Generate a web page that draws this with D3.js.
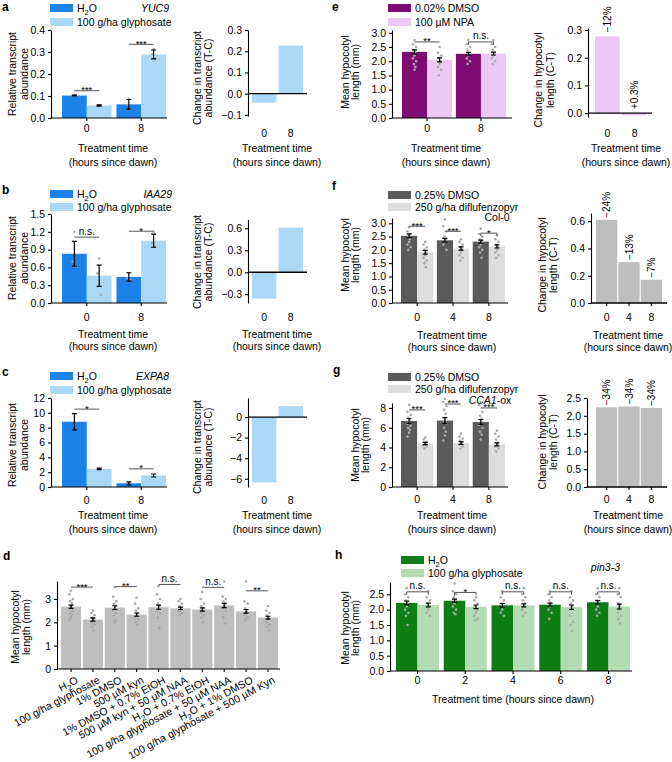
<!DOCTYPE html>
<html><head><meta charset="utf-8">
<script src="https://cdn.jsdelivr.net/npm/d3@7"></script>
<style>body{margin:0;background:#fff}</style>
</head><body>
<script>
// ---------- data ----------
var times2 = ["0", "8"], times3 = ["0", "4", "8"], times5 = ["0", "2", "4", "6", "8"];

// a  YUC9
var aH2O = [0.102, 0.062], aH2OErr = [0.002, 0.022], aH2OPts = [[0.104, 0.101, 0.102], [0.086, 0.060, 0.040]];
var aGly = [0.057, 0.289], aGlyErr = [0.003, 0.020], aGlyPts = [[0.059, 0.056, 0.057], [0.312, 0.290, 0.268]];
var aSig = ["***", "***"], aSigAt = [0.124, 0.335];
var aDiff = [-0.042, 0.227];

// b  IAA29
var bH2O = [0.83, 0.44], bH2OErr = [0.21, 0.07], bH2OPts = [[1.2, 0.7, 0.62], [0.5, 0.42, 0.39]];
var bGly = [0.46, 1.05], bGlyErr = [0.18, 0.11], bGlyPts = [[0.75, 0.5, 0.14], [1.2, 1.0, 0.95]];
var bSig = ["n.s.", "*"], bSigAt = [1.11, 1.21];
var bDiff = [-0.36, 0.61];

// c  EXPA8
var cH2O = [8.8, 0.5], cH2OErr = [1.1, 0.2];
var cGly = [2.45, 1.55], cGlyErr = [0.1, 0.2];
var cSig = ["*", "*"], cSigAt = [10.5, 2.45];
var cDiff = [-6.35, 1.05];

// d  treatments
var dLabels = ["H₂O", "100 g/ha glyphosate", "1% DMSO", "500 µM kyn", "1% DMSO + 0.7% EtOH",
  "500 µM kyn + 50 µM NAA", "H₂O + 0.7% EtOH", "100 g/ha glyphosate + 50 µM NAA", "H₂O + 1% DMSO",
  "100 g/ha glyphosate + 500 µM Kyn"];
var dMean = [2.67, 2.12, 2.63, 2.33, 2.65, 2.60, 2.55, 2.72, 2.47, 2.20];
var dErr = [0.07, 0.07, 0.08, 0.07, 0.09, 0.05, 0.07, 0.09, 0.08, 0.06];
var dPts = [
  [3.35, 3.2, 3.0, 2.9, 2.8, 2.7, 2.6, 2.5, 2.4, 2.3, 2.2, 2.1],
  [2.5, 2.4, 2.3, 2.2, 2.15, 2.1, 2.0, 1.9, 1.8, 1.65],
  [3.5, 3.1, 2.9, 2.8, 2.7, 2.6, 2.5, 2.4, 2.3, 2.1, 2.0],
  [3.05, 2.8, 2.6, 2.5, 2.4, 2.3, 2.2, 2.1, 2.0, 1.9],
  [3.55, 3.2, 3.0, 2.8, 2.7, 2.6, 2.5, 2.4, 2.2, 1.75],
  [3.0, 2.9, 2.8, 2.7, 2.6, 2.5, 2.45, 2.4, 2.3],
  [3.3, 3.0, 2.8, 2.7, 2.6, 2.5, 2.4, 2.3, 2.2, 2.0],
  [3.75, 3.1, 3.0, 2.9, 2.8, 2.7, 2.6, 2.5, 2.2, 1.95],
  [3.75, 2.9, 2.8, 2.6, 2.5, 2.4, 2.3, 2.2, 2.1],
  [2.7, 2.5, 2.4, 2.3, 2.2, 2.1, 2.0, 1.9, 1.8, 1.65]];
var dSig = ["***", "**", "n.s.", "n.s.", "**"], dSigAt = [3.51, 3.53, 3.62, 3.5, 3.35];

// e  NPA
var eDMSO = [2.33, 2.26], eDMSOErr = [0.07, 0.05];
var eNPA = [2.05, 2.27], eNPAErr = [0.07, 0.05];
var eDMSOPts = [[2.75, 2.6, 2.5, 2.4, 2.3, 2.2, 2.1, 2.0, 1.9, 1.8, 1.7], [2.75, 2.6, 2.5, 2.4, 2.3, 2.2, 2.1, 2.0, 1.9]];
var eNPAPts = [[2.5, 2.3, 2.2, 2.1, 2.0, 1.9, 1.8, 1.7, 1.5], [2.75, 2.6, 2.5, 2.4, 2.3, 2.2, 2.1, 2.0, 1.9]];
var eSig = ["**", "n.s."], eSigAt = [2.68, 2.68];
var eDiff = [0.277, -0.008], ePct = ["−12%", "+0.3%"];

// f  diflufenzopyr, Col-0
var fDMSO = [2.53, 2.36, 2.31], fDMSOErr = [0.07, 0.07, 0.06];
var fDif = [1.91, 2.05, 2.13], fDifErr = [0.07, 0.06, 0.06];
var fDMSOPts = [[2.85, 2.7, 2.6, 2.5, 2.4, 2.3, 2.2, 2.1, 2.0], [3.15, 2.9, 2.7, 2.5, 2.4, 2.3, 2.2, 2.0], [2.8, 2.6, 2.5, 2.4, 2.3, 2.2, 2.1, 2.0, 1.9, 1.7]];
var fDifPts = [[2.3, 2.2, 2.1, 2.0, 1.9, 1.8, 1.7, 1.6, 1.5, 1.35], [2.4, 2.3, 2.2, 2.1, 2.0, 1.9, 1.8, 1.7, 1.6], [2.55, 2.4, 2.3, 2.2, 2.1, 2.0, 1.9, 1.8, 1.7]];
var fSig = ["***", "***", "*"], fSigAt = [2.89, 2.7, 2.63];
var fDiff = [0.61, 0.30, 0.17], fPct = ["−24%", "−13%", "−7%"];

// g  diflufenzopyr, CCA1-ox
var gDMSO = [6.68, 6.72, 6.58], gDMSOErr = [0.25, 0.3, 0.25];
var gDif = [4.4, 4.45, 4.32], gDifErr = [0.12, 0.15, 0.15];
var gDMSOPts = [[8.3, 7.6, 7.3, 7.0, 6.8, 6.6, 6.4, 6.2, 6.0, 5.8, 5.5, 5.1], [8.9, 8.6, 8.2, 7.8, 7.4, 7.0, 6.7, 6.4, 6.0, 5.6, 5.2, 4.7], [8.6, 8.3, 7.6, 7.2, 6.9, 6.6, 6.3, 6.0, 5.6, 5.3, 4.8]];
var gDifPts = [[5.0, 4.8, 4.6, 4.5, 4.4, 4.3, 4.2, 4.1, 3.9], [5.4, 5.1, 4.9, 4.7, 4.5, 4.4, 4.3, 4.1, 3.9], [5.7, 5.4, 5.1, 4.8, 4.5, 4.3, 4.1, 3.9, 3.6]];
var gSig = ["***", "***", "***"], gSigAt = [7.8, 8.4, 8.0];
var gDiff = [2.24, 2.26, 2.22], gPct = ["−34%", "−34%", "−34%"];

// h  pin3-3
var hH2O = [2.22, 2.29, 2.14, 2.16, 2.24], hH2OErr = [0.06, 0.05, 0.06, 0.05, 0.05];
var hGly = [2.15, 2.09, 2.14, 2.08, 2.10], hGlyErr = [0.06, 0.06, 0.05, 0.07, 0.08];
var hH2OPts = [[2.7, 2.5, 2.4, 2.3, 2.2, 2.1, 2.0, 1.9, 1.8, 1.5], [2.85, 2.6, 2.5, 2.4, 2.3, 2.2, 2.1, 2.0, 1.9, 1.85], [2.6, 2.4, 2.3, 2.2, 2.1, 2.0, 1.9, 1.8], [2.6, 2.5, 2.4, 2.3, 2.2, 2.1, 2.0, 1.9, 1.7], [2.7, 2.5, 2.4, 2.3, 2.2, 2.1, 2.0, 1.9, 1.8]];
var hGlyPts = [[2.6, 2.4, 2.3, 2.2, 2.1, 2.0, 1.9, 1.8], [2.4, 2.3, 2.2, 2.1, 2.0, 1.9, 1.8, 1.7, 1.65], [2.7, 2.5, 2.4, 2.3, 2.2, 2.1, 2.0, 1.9, 1.8], [2.6, 2.4, 2.3, 2.2, 2.1, 2.0, 1.8, 1.6, 1.5, 1.3], [2.7, 2.5, 2.4, 2.2, 2.1, 2.0, 1.9, 1.8, 1.7, 1.55]];
var hSig = ["n.s.", "*", "n.s.", "n.s.", "n.s."], hSigAt = [2.58, 2.56, 2.58, 2.58, 2.58];

// ---------- drawing ----------
var FONT = '"Liberation Sans", Arial, Helvetica, sans-serif';
var FS = 10.5;
var BLUE = "#1a82e8", LBLUE = "#aad8f6", PURP = "#7e0b71", PINK = "#ecc8f4",
    DGRAY = "#5b5b5b", LGRAY = "#dddddd", MGRAY = "#bebebe", DGREEN = "#0c7e13", LGREEN = "#b4dcb3",
    PTCOL = "#a9a9a9";
var jit = [0, -1.6, 1.6, -0.8, 0.8];

var svg = d3.select("body").append("svg").attr("width", 672).attr("height", 762)
  .style("font-family", FONT);

function rich(sel, s) {
  var parts = s.split("₂");
  sel.append("tspan").text(parts[0]);
  for (var i = 1; i < parts.length; i++) {
    sel.append("tspan").attr("dy", 3).attr("font-size", "72%").text("2");
    sel.append("tspan").attr("dy", -3).text(parts[i]);
  }
}

function label(x, y, s, opt) {
  opt = opt || {};
  var t = svg.append("text").attr("x", x).attr("y", y).attr("dy", "0.35em")
    .attr("font-size", opt.size || FS).attr("text-anchor", opt.anchor || "start")
    .attr("font-weight", opt.bold ? "bold" : null).attr("font-style", opt.italic ? "italic" : null);
  rich(t, s);
  return t;
}

function yTitle(xs, yc, lines) {
  lines.forEach(function (l, i) {
    svg.append("text").attr("transform", "translate(" + xs[i] + "," + yc + ") rotate(-90)")
      .attr("dy", "0.35em").attr("text-anchor", "middle").attr("font-size", FS).text(l);
  });
}

function xTitle(xc, ys) {
  var lines = ["Treatment time", "(hours since dawn)"];
  ys.forEach(function (y, i) { label(xc, y, lines[i], {anchor: "middle"}); });
}

function legend(x, tops, names, colors) {
  names.forEach(function (n, i) {
    svg.append("rect").attr("x", x).attr("y", tops[i]).attr("width", 23).attr("height", 8).attr("fill", colors[i]);
    label(x + 27, tops[i] + 4, n);
  });
}

function styleAxis(a) {
  a.selectAll("text").attr("font-size", FS).attr("fill", "#000").attr("font-family", FONT);
  a.selectAll("path,line").attr("stroke", "#000").attr("stroke-width", 1.1);
}

function yAxis(y, x0, ticks, fmt) {
  svg.append("g").attr("transform", "translate(" + x0 + ",0)")
    .call(d3.axisLeft(y).tickValues(ticks).tickFormat(d3.format(fmt)).tickSize(3).tickSizeOuter(0).tickPadding(3))
    .call(styleAxis);
}

function hline(x1, x2, y, w) {
  svg.append("line").attr("x1", x1).attr("x2", x2).attr("y1", y).attr("y2", y)
    .attr("stroke", "#000").attr("stroke-width", w || 1.1);
}

function xAxis(x, yPos, tickY, tickLen) {
  var a = svg.append("g").attr("transform", "translate(0," + yPos + ")")
    .call(d3.axisBottom(x).tickSize(tickLen).tickSizeOuter(0)).call(styleAxis);
  a.select(".domain").remove();
  a.selectAll("text").attr("y", tickY - yPos).attr("dy", "0.35em");
}

function points(g, cx, y, arr) {
  g.selectAll(null).data(arr).enter().append("circle")
    .attr("cx", function (d, j) { return cx + jit[j % jit.length]; })
    .attr("cy", function (d) { return y(d); }).attr("r", 1.3).attr("fill", PTCOL);
}

function errBar(g, cx, y, v, e) {
  var p = d3.path();
  p.moveTo(cx, y(v - e)); p.lineTo(cx, y(v + e));
  p.moveTo(cx - 2.5, y(v - e)); p.lineTo(cx + 2.5, y(v - e));
  p.moveTo(cx - 2.5, y(v + e)); p.lineTo(cx + 2.5, y(v + e));
  g.append("path").attr("d", p.toString()).attr("stroke", "#000").attr("stroke-width", 1.2).attr("fill", "none");
}

function sig(x1, x2, yy, s, bracket) {
  var p = d3.path();
  if (bracket) { p.moveTo(x1, yy + 3); p.lineTo(x1, yy); p.lineTo(x2, yy); p.lineTo(x2, yy + 3); }
  else { p.moveTo(x1, yy); p.lineTo(x2, yy); }
  svg.append("path").attr("d", p.toString()).attr("stroke", "#555").attr("stroke-width", 1).attr("fill", "none");
  var star = s.indexOf("*") >= 0;
  svg.append("text").attr("x", (x1 + x2) / 2).attr("y", star ? yy + 2.5 : yy - 2.5)
    .attr("text-anchor", "middle").attr("font-size", star ? 9.5 : 10).text(s);
}

// grouped bar panel (two series per time point)
function grouped(p) {
  var y = d3.scaleLinear().domain(p.domain).range([p.yBottom, p.yTop]);
  var x = d3.scaleBand().domain(p.groups).range(p.band).paddingInner(p.pad);
  var xs = d3.scaleBand().domain(d3.range(p.series.length)).range([0, x.bandwidth()]);
  var g = svg.append("g");
  var cx = function (i, k) { return x(p.groups[i]) + xs(k) + xs.bandwidth() / 2; };
  p.series.forEach(function (s, k) {
    g.append("g").selectAll("rect").data(s.v).enter().append("rect")
      .attr("x", function (d, i) { return x(p.groups[i]) + xs(k); })
      .attr("width", xs.bandwidth())
      .attr("y", function (d) { return y(d); })
      .attr("height", function (d) { return y(0) - y(d); })
      .attr("fill", s.color);
  });
  p.series.forEach(function (s, k) {
    if (s.pts) s.pts.forEach(function (arr, i) { points(g, cx(i, k), y, arr); });
  });
  p.series.forEach(function (s, k) {
    s.v.forEach(function (v, i) { errBar(g, cx(i, k), y, v, s.e[i]); });
  });
  yAxis(y, p.axisX, p.ticks, p.fmt);
  hline(p.axisX, p.xEnd, y(0));
  xAxis(x, y(0), p.tickY, 3);
  p.sig.forEach(function (s, i) {
    sig(cx(i, 0), cx(i, 1), y(p.sigAt[i]), s, p.brackets && p.brackets.indexOf(i) >= 0);
  });
}

// difference panel
function diff(p) {
  var y = d3.scaleLinear().domain(p.domain).range([p.yBottom, p.yTop]);
  var x = d3.scaleBand().domain(p.groups).range(p.band).paddingInner(p.pad);
  svg.append("g").selectAll("rect").data(p.vals).enter().append("rect")
    .attr("x", function (d, i) { return x(p.groups[i]); })
    .attr("width", x.bandwidth())
    .attr("y", function (d) { return y(Math.max(0, d)); })
    .attr("height", function (d) { return Math.abs(y(d) - y(0)); })
    .attr("fill", p.color);
  yAxis(y, p.axisX, p.ticks, p.fmt);
  hline(p.axisX, p.zeroEnd, y(0), 1.3);
  xAxis(x, p.yBottom, p.tickY, p.domain[0] === 0 ? 3 : 0);
  if (p.pct) p.pct.forEach(function (s, i) {
    var cx = x(p.groups[i]) + x.bandwidth() / 2, top = y(Math.max(0, p.vals[i])) - (p.gap || 2);
    svg.append("text").attr("transform", "translate(" + cx + "," + top + ") rotate(-90)")
      .attr("dy", "0.35em").attr("font-size", 10).text(s);
  });
}

// ----- a -----
label(2, 7, "a", {bold: true, size: 12});
legend(50, [4, 18], ["H₂O", "100 g/ha glyphosate"], [BLUE, LBLUE]);
label(169, 8, "YUC9", {italic: true, anchor: "end"});
grouped({groups: times2, band: [62, 166], pad: 0.09, domain: [0, 0.4], yBottom: 118, yTop: 30,
  ticks: [0, 0.1, 0.2, 0.3, 0.4], fmt: ".1f", axisX: 51, xEnd: 167, tickY: 128,
  series: [{v: aH2O, e: aH2OErr, pts: aH2OPts, color: BLUE}, {v: aGly, e: aGlyErr, pts: aGlyPts, color: LBLUE}],
  sig: aSig, sigAt: aSigAt});
xTitle(113, [148, 162]);
yTitle([12, 24], 74, ["Relative transcript", "abundance"]);
diff({groups: times2, band: [252, 303], pad: 0.08, domain: [-0.105, 0.3], yBottom: 116, yTop: 30,
  ticks: [-0.1, 0, 0.1, 0.2, 0.3], fmt: ".1f", axisX: 248, zeroEnd: 307, tickY: 133, vals: aDiff, color: LBLUE});
xTitle(277, [148, 162]);
yTitle([197, 208], 78, ["Change in transcript", "abundance (T-C)"]);

// ----- b -----
label(2, 190, "b", {bold: true, size: 12});
legend(50, [190, 203], ["H₂O", "100 g/ha glyphosate"], [BLUE, LBLUE]);
label(172, 194, "IAA29", {italic: true, anchor: "end"});
grouped({groups: times2, band: [62, 166], pad: 0.09, domain: [0, 1.5], yBottom: 303, yTop: 214,
  ticks: [0, 0.3, 0.6, 0.9, 1.2, 1.5], fmt: ".1f", axisX: 51, xEnd: 167, tickY: 317,
  series: [{v: bH2O, e: bH2OErr, pts: bH2OPts, color: BLUE}, {v: bGly, e: bGlyErr, pts: bGlyPts, color: LBLUE}],
  sig: bSig, sigAt: bSigAt});
xTitle(113, [334, 346]);
yTitle([12, 24], 258, ["Relative transcript", "abundance"]);
diff({groups: times2, band: [252, 303], pad: 0.08, domain: [-0.42, 0.72], yBottom: 303, yTop: 219.5,
  ticks: [-0.3, 0, 0.3, 0.6], fmt: ".1f", axisX: 248, zeroEnd: 307, tickY: 317, vals: bDiff, color: LBLUE});
xTitle(277, [334, 346]);
yTitle([197, 208], 262, ["Change in transcript", "abundance (T-C)"]);

// ----- c -----
label(2, 372, "c", {bold: true, size: 12});
legend(50, [372, 386], ["H₂O", "100 g/ha glyphosate"], [BLUE, LBLUE]);
label(169, 376, "EXPA8", {italic: true, anchor: "end"});
grouped({groups: times2, band: [62, 166], pad: 0.09, domain: [0, 12], yBottom: 487, yTop: 398,
  ticks: [0, 2, 4, 6, 8, 10, 12], fmt: "d", axisX: 51, xEnd: 167, tickY: 500,
  series: [{v: cH2O, e: cH2OErr, color: BLUE}, {v: cGly, e: cGlyErr, color: LBLUE}],
  sig: cSig, sigAt: cSigAt});
xTitle(113, [515, 529]);
yTitle([12, 24], 445, ["Relative transcript", "abundance"]);
diff({groups: times2, band: [252, 303], pad: 0.08, domain: [-6.8, 1.85], yBottom: 487, yTop: 398,
  ticks: [-6, -4, -2, 0], fmt: "d", axisX: 248, zeroEnd: 307, tickY: 500, vals: cDiff, color: LBLUE});
xTitle(277, [515, 529]);
yTitle([197, 208], 447, ["Change in transcript", "abundance (T-C)"]);

// ----- d -----
label(3, 556, "d", {bold: true, size: 12});
(function () {
  var y = d3.scaleLinear().domain([0, 3.77]).range([669, 581]);
  var x = d3.scaleBand().domain(d3.range(dLabels.length)).range([61, 278]).paddingInner(0.08);
  var g = svg.append("g");
  g.selectAll("rect").data(dMean).enter().append("rect")
    .attr("x", function (d, i) { return x(i); }).attr("width", x.bandwidth())
    .attr("y", function (d) { return y(d); }).attr("height", function (d) { return y(0) - y(d); })
    .attr("fill", MGRAY);
  var cx = function (i) { return x(i) + x.bandwidth() / 2; };
  dPts.forEach(function (arr, i) { points(g, cx(i), y, arr); });
  dMean.forEach(function (v, i) { errBar(g, cx(i), y, v, dErr[i]); });
  yAxis(y, 57, [0, 1, 2, 3], "d");
  hline(57, 280, 669);
  var a = svg.append("g").attr("transform", "translate(0,669)")
    .call(d3.axisBottom(x).tickSize(3).tickSizeOuter(0).tickFormat("")).call(styleAxis);
  a.select(".domain").remove();
  dLabels.forEach(function (s, i) {
    var t = svg.append("text").attr("transform", "translate(" + (cx(i) + 6) + ",679) rotate(-28)")
      .attr("text-anchor", "end").attr("dy", "0.35em").attr("font-size", 10.6);
    rich(t, s);
  });
  dSig.forEach(function (s, i) { sig(cx(2 * i), cx(2 * i + 1), y(dSigAt[i]), s, false); });
})();
yTitle([15, 26], 627, ["Mean hypocotyl", "length (mm)"]);

// ----- e -----
label(332, 7, "e", {bold: true, size: 12});
legend(388, [4, 18], ["0.02% DMSO", "100 µM NPA"], [PURP, PINK]);
grouped({groups: times2, band: [402, 506], pad: 0.07, domain: [0, 3.1], yBottom: 118, yTop: 30,
  ticks: [0, 0.5, 1, 1.5, 2, 2.5, 3], fmt: ".1f", axisX: 392, xEnd: 512, tickY: 128,
  series: [{v: eDMSO, e: eDMSOErr, pts: eDMSOPts, color: PURP}, {v: eNPA, e: eNPAErr, pts: eNPAPts, color: PINK}],
  sig: eSig, sigAt: eSigAt, brackets: [1]});
xTitle(446, [148, 162]);
yTitle([345, 355], 72, ["Mean hypocotyl", "length (mm)"]);
diff({groups: times2, band: [595, 647], pad: 0.1, domain: [-0.014, 0.307], yBottom: 117, yTop: 28,
  ticks: [0, 0.1, 0.2, 0.3], fmt: ".1f", axisX: 588, zeroEnd: 652, tickY: 133, vals: eDiff, color: PINK, pct: ePct, gap: 4});
xTitle(626, [148, 162]);
yTitle([538, 550], 80, ["Change in hypocotyl", "length (C-T)"]);

// ----- f -----
label(332, 186, "f", {bold: true, size: 12});
legend(388, [191, 203], ["0.25% DMSO", "250 g/ha diflufenzopyr"], [DGRAY, LGRAY]);
label(497, 217, "Col-0", {anchor: "middle"});
grouped({groups: times3, band: [401, 505], pad: 0.1, domain: [0, 3.2], yBottom: 303, yTop: 218,
  ticks: [0, 0.5, 1, 1.5, 2, 2.5, 3], fmt: ".1f", axisX: 392, xEnd: 508, tickY: 317,
  series: [{v: fDMSO, e: fDMSOErr, pts: fDMSOPts, color: DGRAY}, {v: fDif, e: fDifErr, pts: fDifPts, color: LGRAY}],
  sig: fSig, sigAt: fSigAt, brackets: [2]});
xTitle(452, [335, 347]);
yTitle([345, 355], 255, ["Mean hypocotyl", "length (mm)"]);
diff({groups: times3, band: [596, 662], pad: 0.05, domain: [0, 0.66], yBottom: 303, yTop: 213,
  ticks: [0, 0.2, 0.4, 0.6], fmt: ".1f", axisX: 591, zeroEnd: 667, tickY: 317, vals: fDiff, color: MGRAY, pct: fPct});
xTitle(628, [335, 347]);
yTitle([542, 553], 265, ["Change in hypocotyl", "length (C-T)"]);

// ----- g -----
label(333, 370, "g", {bold: true, size: 12});
legend(388, [373, 385], ["0.25% DMSO", "250 g/ha diflufenzopyr"], [DGRAY, LGRAY]);
(function () {
  var t = svg.append("text").attr("x", 490).attr("y", 400).attr("dy", "0.35em")
    .attr("text-anchor", "middle").attr("font-size", FS);
  t.append("tspan").attr("font-style", "italic").text("CCA1");
  t.append("tspan").text("-ox");
})();
grouped({groups: times3, band: [401, 505], pad: 0.1, domain: [0, 8.5], yBottom: 487, yTop: 403,
  ticks: [0, 2, 4, 6, 8], fmt: "d", axisX: 392, xEnd: 508, tickY: 499,
  series: [{v: gDMSO, e: gDMSOErr, pts: gDMSOPts, color: DGRAY}, {v: gDif, e: gDifErr, pts: gDifPts, color: LGRAY}],
  sig: gSig, sigAt: gSigAt});
xTitle(452, [515, 529]);
yTitle([355, 365], 445, ["Mean hypocotyl", "length (mm)"]);
diff({groups: times3, band: [596, 662], pad: 0.05, domain: [0, 2.5], yBottom: 487, yTop: 398,
  ticks: [0, 0.5, 1, 1.5, 2, 2.5], fmt: ".1f", axisX: 587, zeroEnd: 667, tickY: 499, vals: gDiff, color: MGRAY, pct: gPct});
xTitle(628, [515, 529]);
yTitle([542, 553], 442, ["Change in hypocotyl", "length (C-T)"]);

// ----- h -----
label(335, 555, "h", {bold: true, size: 12});
legend(401, [556, 569], ["H₂O", "100 g/ha glyphosate"], [DGREEN, LGREEN]);
label(620, 567, "pin3-3", {italic: true, anchor: "end"});
grouped({groups: times5, band: [396, 630], pad: 0.1, domain: [0, 2.9], yBottom: 671, yTop: 582,
  ticks: [0, 0.5, 1, 1.5, 2, 2.5], fmt: ".1f", axisX: 390, xEnd: 632, tickY: 680,
  series: [{v: hH2O, e: hH2OErr, pts: hH2OPts, color: DGREEN}, {v: hGly, e: hGlyErr, pts: hGlyPts, color: LGREEN}],
  sig: hSig, sigAt: hSigAt, brackets: [0, 1, 2, 3, 4]});
label(513, 699, "Treatment time (hours since dawn)", {anchor: "middle"});
yTitle([345, 355], 628, ["Mean hypocotyl", "length (mm)"]);
</script>
</body></html>
